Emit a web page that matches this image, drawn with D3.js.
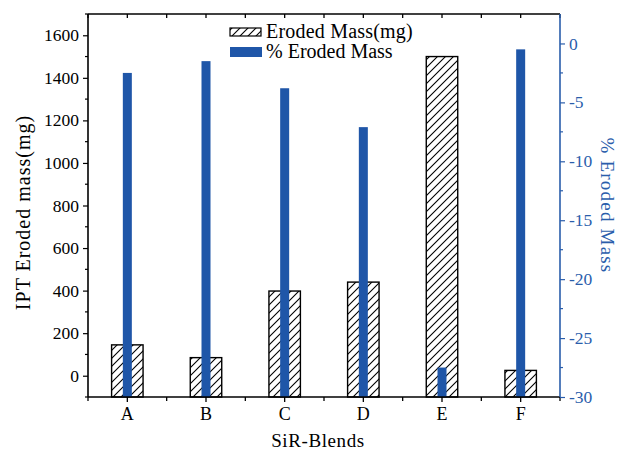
<!DOCTYPE html>
<html>
<head>
<meta charset="utf-8">
<script src="https://cdn.jsdelivr.net/npm/d3@7"></script>
<style>
  body { margin: 0; background: #fff; }
  text { font-family: "Liberation Serif", "DejaVu Serif", serif; }
</style>
</head>
<body>
<div id="chart"></div>
<script>
// data
var blends = ["A", "B", "C", "D", "E", "F"];
var erodedMass = [145, 85, 398, 440, 1500, 25];        // mg, left axis
var erodedPct = [-2.5, -1.5, -3.8, -7.1, -27.5, -0.5];  // %, right axis
var leftTicks = [0, 200, 400, 600, 800, 1000, 1200, 1400, 1600];
var rightTicks = [0, -5, -10, -15, -20, -25, -30];

var blue = "#1f56a8";
var axisBlue = "#2a5dab";

// set the dimensions and margins of the graph
var margin = {top: 14, right: 61, bottom: 54, left: 88},
    width = 621 - margin.left - margin.right,
    height = 451 - margin.top - margin.bottom;

var svg = d3.select("#chart").append("svg")
    .attr("width", 621)
    .attr("height", 451);

// hatch pattern for the mass bars
var defs = svg.append("defs");
var pat = defs.append("pattern")
    .attr("id", "hatch")
    .attr("patternUnits", "userSpaceOnUse")
    .attr("width", 8)
    .attr("height", 8);
pat.append("rect").attr("width", 8).attr("height", 8).attr("fill", "#fff");
pat.append("path")
    .attr("d", "M-2,2 l4,-4 M0,8 l8,-8 M6,10 l4,-4")
    .attr("stroke", "#000")
    .attr("stroke-width", 1.1);

var g = svg.append("g")
    .attr("transform", "translate(" + margin.left + "," + margin.top + ")");

// scales
var x = d3.scaleBand().domain(blends).range([0, width]).padding(0);
var yL = d3.scaleLinear().domain([-100, 1700]).range([height, 0]);
var yR = d3.scaleLinear().domain([-30, 2.5]).range([height, 0]);

var data = blends.map(function(d, i) {
  return {name: d, mass: erodedMass[i], pct: erodedPct[i]};
});

var massW = x.bandwidth() * 0.4,
    pctW = 9;

// plain labels, hyphen as minus sign
var plain = function(d) { return String(d); };

// hatched bars
g.selectAll(".mass")
    .data(data)
  .enter().append("rect")
    .attr("class", "mass")
    .attr("x", function(d) { return x(d.name) + x.bandwidth() / 2 - massW / 2; })
    .attr("width", massW)
    .attr("y", function(d) { return yL(d.mass); })
    .attr("height", function(d) { return height - yL(d.mass); })
    .attr("fill", "url(#hatch)")
    .attr("stroke", "#000")
    .attr("stroke-width", 1.4);

// blue bars
g.selectAll(".pct")
    .data(data)
  .enter().append("rect")
    .attr("class", "pct")
    .attr("x", function(d) { return x(d.name) + x.bandwidth() / 2 - pctW / 2; })
    .attr("width", pctW)
    .attr("y", function(d) { return yR(d.pct); })
    .attr("height", function(d) { return height - yR(d.pct); })
    .attr("fill", blue);

// minor tick positions on the category axes (edges and midpoints)
var xMinor = d3.range(blends.length + 1).map(function(i) { return i * x.bandwidth(); });
var xMajor = blends.map(function(d) { return x(d) + x.bandwidth() / 2; });

// bottom axis
var xAxis = d3.axisBottom(x).tickSize(5).tickPadding(5);
var gx = g.append("g")
    .attr("transform", "translate(0," + height + ")")
    .call(xAxis);
gx.select(".domain").remove();
gx.selectAll(".minor")
    .data(xMinor)
  .enter().append("line")
    .attr("x1", function(d) { return d; })
    .attr("x2", function(d) { return d; })
    .attr("y1", 0).attr("y2", 4)
    .attr("stroke", "#000").attr("stroke-width", 1.3);
gx.selectAll(".tick line").attr("stroke-width", 1.3);
gx.selectAll("text").style("font-size", "18px").attr("fill", "#000");

// top ticks
var gt = g.append("g");
gt.selectAll("line")
    .data(xMajor.concat(xMinor))
  .enter().append("line")
    .attr("x1", function(d) { return d; })
    .attr("x2", function(d) { return d; })
    .attr("y1", 0).attr("y2", 4)
    .attr("stroke", "#000").attr("stroke-width", 1.3);

// left axis
var yAxisL = d3.axisLeft(yL).tickValues(leftTicks).tickFormat(plain).tickSize(5).tickPadding(4);
var gl = g.append("g").call(yAxisL);
gl.select(".domain").remove();
gl.selectAll(".minor")
    .data(d3.range(-100, 1701, 100).filter(function(v) { return v % 200 !== 0; }))
  .enter().append("line")
    .attr("x1", -3).attr("x2", 0)
    .attr("y1", function(d) { return yL(d); })
    .attr("y2", function(d) { return yL(d); })
    .attr("stroke", "#000").attr("stroke-width", 1.2);
gl.selectAll(".tick line").attr("stroke-width", 1.2);
gl.selectAll("text").style("font-size", "17.5px").attr("fill", "#000");

// right axis
var yAxisR = d3.axisRight(yR).tickValues(rightTicks).tickFormat(plain).tickSize(5).tickPadding(4);
var gr = g.append("g")
    .attr("transform", "translate(" + width + ",0)")
    .call(yAxisR);
gr.select(".domain").remove();
gr.selectAll(".minor")
    .data(d3.range(-27.5, 2.5, 5))
  .enter().append("line")
    .attr("x1", 0).attr("x2", 3)
    .attr("y1", function(d) { return yR(d); })
    .attr("y2", function(d) { return yR(d); })
    .attr("stroke", axisBlue).attr("stroke-width", 1.2);
gr.selectAll(".tick line").attr("stroke", axisBlue).attr("stroke-width", 1.2);
gr.selectAll("text").style("font-size", "17.5px").attr("fill", axisBlue);

// frame
g.append("line").attr("x1", 0).attr("x2", width).attr("y1", 0).attr("y2", 0)
    .attr("stroke", "#000").attr("stroke-width", 1.6);
g.append("line").attr("x1", 0).attr("x2", width).attr("y1", height).attr("y2", height)
    .attr("stroke", "#000").attr("stroke-width", 1.6);
g.append("line").attr("x1", 0).attr("x2", 0).attr("y1", 0).attr("y2", height)
    .attr("stroke", "#000").attr("stroke-width", 1.6);
g.append("line").attr("x1", width).attr("x2", width).attr("y1", 0).attr("y2", height)
    .attr("stroke", axisBlue).attr("stroke-width", 1.6);

// axis titles
g.append("text")
    .attr("transform", "translate(-58," + (height / 2 + 7) + ") rotate(-90)")
    .attr("text-anchor", "middle")
    .style("font-size", "20px")
    .style("letter-spacing", "1px")
    .text("IPT Eroded mass(mg)");

g.append("text")
    .attr("transform", "translate(" + (width + 41) + "," + (height / 2) + ") rotate(90)")
    .attr("text-anchor", "middle")
    .attr("fill", axisBlue)
    .style("font-size", "19px")
    .style("letter-spacing", "1.2px")
    .text("% Eroded Mass");

g.append("text")
    .attr("x", width / 2 - 6)
    .attr("y", height + 50)
    .attr("text-anchor", "middle")
    .style("font-size", "19px")
    .style("letter-spacing", "0.6px")
    .text("SiR-Blends");

// legend
var legend = g.append("g").attr("transform", "translate(142,0)");
legend.append("rect")
    .attr("x", 0).attr("y", 14).attr("width", 31).attr("height", 8)
    .attr("fill", "url(#hatch)").attr("stroke", "#000").attr("stroke-width", 1.2);
legend.append("text")
    .attr("x", 36).attr("y", 24)
    .style("font-size", "20px")
    .style("letter-spacing", "0.2px")
    .text("Eroded Mass(mg)");
legend.append("rect")
    .attr("x", 0).attr("y", 33).attr("width", 32).attr("height", 10)
    .attr("fill", blue);
legend.append("text")
    .attr("x", 36).attr("y", 44)
    .style("font-size", "20px")
    .text("% Eroded Mass");
</script>
</body>
</html>
